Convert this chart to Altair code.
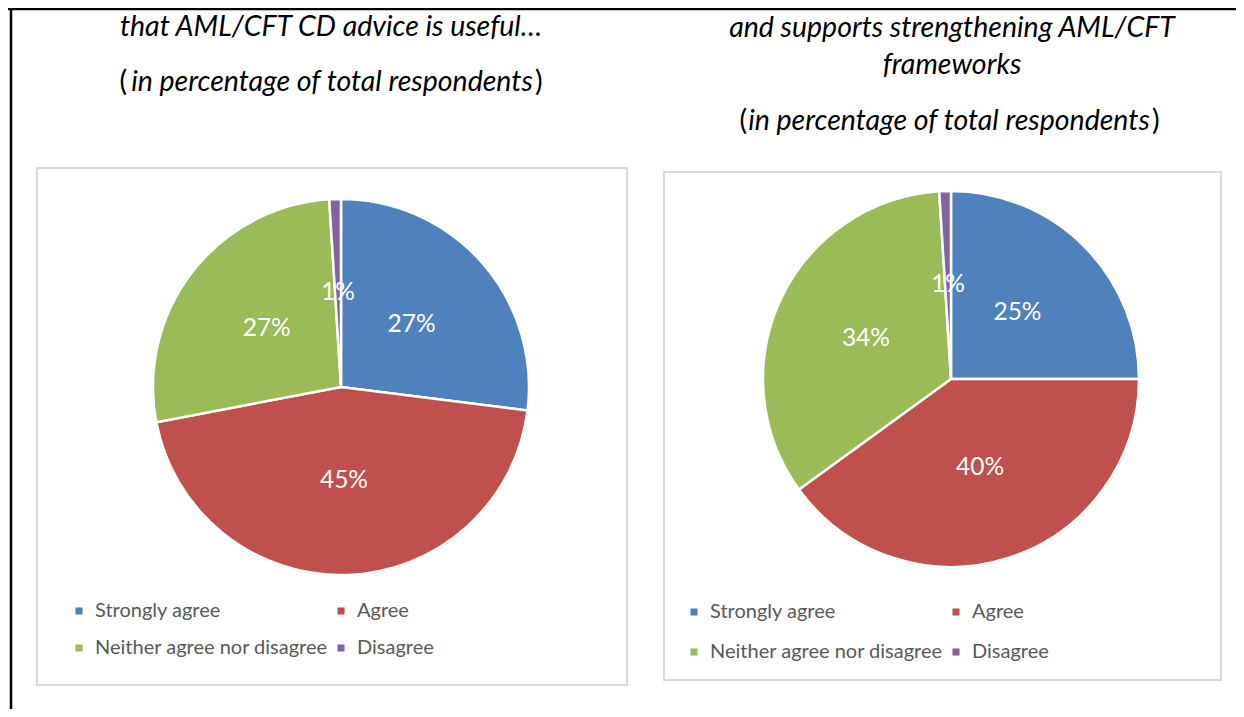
import altair as alt
import pandas as pd

# ---------------- data ----------------
categories = ["Strongly agree", "Agree", "Neither agree nor disagree", "Disagree"]
useful_pct = [27, 45, 27, 1]
strengthen_pct = [25, 40, 34, 1]
colors = ["#4F81BD", "#C0504D", "#9BBB59", "#8064A2"]
# legend reading order (filled column by column: two rows)
legend_order = ["Strongly agree", "Neither agree nor disagree", "Agree", "Disagree"]

left_title = ["that AML/CFT CD advice is useful…", "in percentage of total respondents"]
right_title = ["and supports strengthening AML/CFT", "frameworks", "in percentage of total respondents"]

FONT = "Lato"
W, H = 1228, 701
OFF = 8  # page margin

color_of = dict(zip(categories, colors))


def px(v):
    return v - OFF


def make_df(vals):
    return pd.DataFrame({
        "category": categories,
        "pct": vals,
        "idx": list(range(len(categories))),
        "label": [f"{v}%" for v in vals],
    })


dummy = pd.DataFrame({"d": [0]})


def box(x1, y1, x2, y2):
    return alt.Chart(dummy).mark_rect(fill="white", stroke="#D9D9D9", strokeWidth=2).encode(
        x=alt.value(px(x1)), x2=alt.value(px(x2)), y=alt.value(px(y1)), y2=alt.value(px(y2))
    )


def pie(vals, cx, cy, lx, ly, row_pad):
    df = make_df(vals)
    base = alt.Chart(df)
    arc = base.mark_arc(outerRadius=188, stroke="white", strokeWidth=2.5).encode(
        theta=alt.Theta("pct:Q", stack=True),
        color=alt.Color(
            "category:N",
            scale=alt.Scale(domain=legend_order, range=[color_of[c] for c in legend_order]),
            legend=alt.Legend(
                orient="none", legendX=px(lx), legendY=px(ly), columns=2, title=None,
                symbolType="square", symbolSize=50, symbolStrokeWidth=0,
                labelFont=FONT, labelFontSize=20, labelColor="#595959",
                columnPadding=3, rowPadding=row_pad, labelOffset=6, padding=0,
                labelLimit=400,
            ),
        ),
        order=alt.Order("idx:Q"),
        x=alt.value(px(cx)), y=alt.value(px(cy)),
    )
    text = base.mark_text(radius=94, fontSize=24.5, font=FONT, color="white").encode(
        theta=alt.Theta("pct:Q", stack=True),
        order=alt.Order("idx:Q"),
        text="label:N",
        x=alt.value(px(cx)), y=alt.value(px(cy)),
    )
    return arc, text


def txt(s, x, y, align="center", style="italic", size=28.5):
    return alt.Chart(dummy).mark_text(
        font=FONT, fontSize=size, fontStyle=style, align=align, baseline="middle", color="#000000"
    ).encode(x=alt.value(px(x)), y=alt.value(px(y)), text=alt.value(s))


def rule_h(x1, x2, y, w=2.5):
    return alt.Chart(dummy).mark_rule(color="black", strokeWidth=w).encode(
        x=alt.value(x1), x2=alt.value(x2), y=alt.value(y))


def rule_v(x, y1, y2, w=2.5):
    return alt.Chart(dummy).mark_rule(color="black", strokeWidth=w).encode(
        x=alt.value(x), y=alt.value(y1), y2=alt.value(y2))


box_l = box(37, 168, 627, 685)
box_r = box(664, 172, 1221, 680)

arc_l, text_l = pie(useful_pct, 341, 387, 69, 601, 17)
arc_r, text_r = pie(strengthen_pct, 951, 379, 684, 602, 20)

titles = [
    txt(left_title[0], 331, 27),
    txt("(", 127, 82, align="right", style="normal"),
    txt(left_title[1], 332, 82),
    txt(")", 535, 82, align="left", style="normal"),
    txt(right_title[0], 952, 28),
    txt(right_title[1], 952, 65),
    txt("(", 747, 121, align="right", style="normal"),
    txt(right_title[2], 949, 121),
    txt(")", 1152, 121, align="left", style="normal"),
]

chart = alt.layer(
    box_l, box_r,
    rule_h(0, W, 1), rule_v(3, 0, H),
    arc_l, text_l, arc_r, text_r,
    *titles,
).resolve_scale(color="independent").properties(
    width=W, height=H, padding=0, autosize="none", background="white"
).configure_view(stroke=None)

chart.save("out.html", embed_options={"renderer": "svg", "actions": False})
